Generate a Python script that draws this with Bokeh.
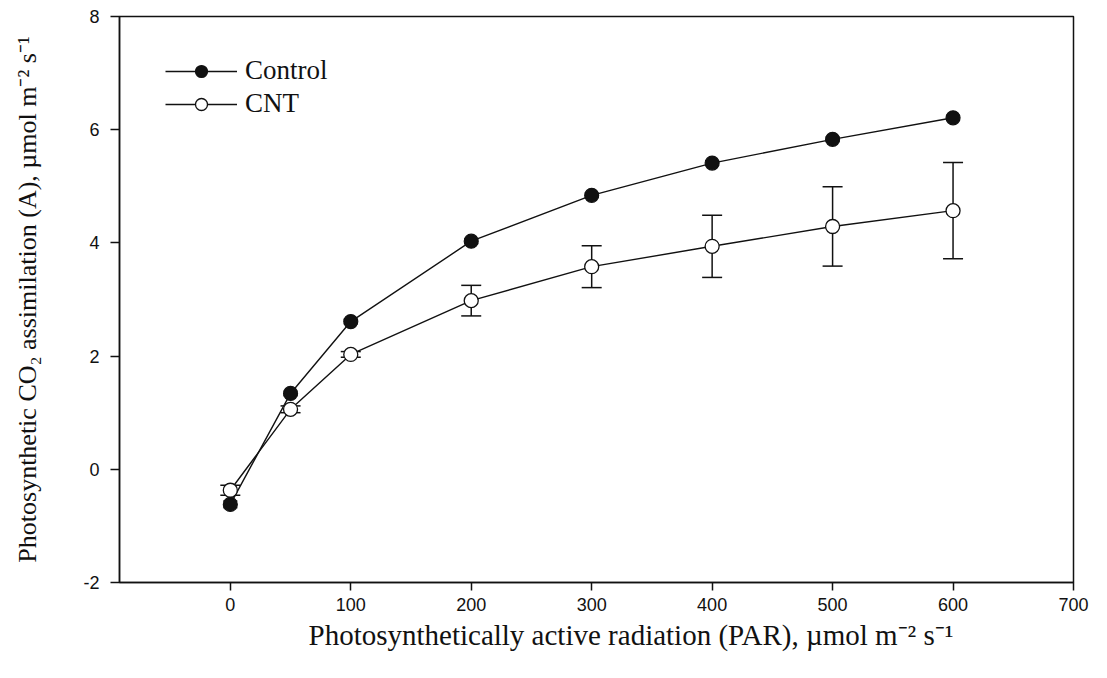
import numpy as np
from bokeh.plotting import figure
from bokeh.models import (Range1d, FixedTicker, ColumnDataSource, Whisker, TeeHead,
                          Legend, LegendItem, Title)
from bokeh.embed import file_html
from bokeh.resources import INLINE

# ---- data ----
par = [0, 50, 100, 200, 300, 400, 500, 600]
control = [-0.62, 1.34, 2.61, 4.03, 4.84, 5.41, 5.83, 6.21]
control_err = [0.06, 0.04, 0.04, 0.04, 0.04, 0.04, 0.04, 0.04]
cnt = [-0.37, 1.06, 2.03, 2.98, 3.58, 3.94, 4.29, 4.57]
cnt_err = [0.09, 0.06, 0.05, 0.27, 0.37, 0.55, 0.70, 0.85]
x_ticks = [0, 100, 200, 300, 400, 500, 600, 700]
y_ticks = [-2, 0, 2, 4, 6, 8]
x_title = "Photosynthetically active radiation (PAR), \u00b5mol m\u207b\u00b2 s\u207b\u00b9"
y_title = "Photosynthetic CO\u2082 assimilation (A), \u00b5mol m\u207b\u00b2 s\u207b\u00b9"

SERIF = "Liberation Serif"
SANS = "Liberation Sans"
INK = "#111111"

p = figure(frame_width=954, frame_height=566, output_backend="svg",
           toolbar_location=None, x_range=Range1d(-92, 700), y_range=Range1d(-2, 8),
           min_border_left=119, min_border_top=16, min_border_right=20, min_border_bottom=40)
p.xgrid.visible = False
p.ygrid.visible = False
p.outline_line_color = INK
p.outline_line_width = 1.5
p.background_fill_color = "white"
p.border_fill_color = "white"

for ax, ticks, tout in ((p.xaxis[0], x_ticks, 8), (p.yaxis[0], y_ticks, 9)):
    ax.ticker = FixedTicker(ticks=ticks)
    ax.major_label_overrides = {t: str(t) for t in ticks}
    ax.minor_tick_line_color = None
    ax.major_tick_in = 0
    ax.major_tick_out = tout
    ax.axis_line_color = INK
    ax.axis_line_width = 1.5
    ax.major_tick_line_color = INK
    ax.major_tick_line_width = 1.5
    ax.major_label_text_font = SANS
    ax.major_label_text_font_size = "18px"
    ax.major_label_text_color = INK
p.xaxis.major_label_standoff = 7
p.yaxis.major_label_standoff = 11

p.yaxis.axis_label = y_title
p.yaxis.axis_label_text_font = SERIF
p.yaxis.axis_label_text_font_size = "26px"
p.yaxis.axis_label_text_font_style = "normal"
p.yaxis.axis_label_text_color = INK
p.yaxis.axis_label_standoff = 38

xt = Title(text=x_title, align="left", offset=189, standoff=6,
           text_font=SERIF, text_font_size="29px", text_font_style="normal",
           text_color=INK)
p.add_layout(xt, "below")

def build_src(x, y, e):
    return ColumnDataSource(dict(x=x, y=y,
                                 upper=[a + b for a, b in zip(y, e)],
                                 lower=[a - b for a, b in zip(y, e)]))

src_c = build_src(par, control, control_err)
src_n = build_src(par, cnt, cnt_err)

for src, cap in ((src_c, 14), (src_n, 20)):
    w = Whisker(source=src, base="x", upper="upper", lower="lower",
                line_color=INK, line_width=1.5, level="underlay",
                upper_head=TeeHead(size=cap, line_color=INK, line_width=1.5),
                lower_head=TeeHead(size=cap, line_color=INK, line_width=1.5))
    p.add_layout(w)

lc = p.line("x", "y", source=src_c, line_color=INK, line_width=1.4)
ln = p.line("x", "y", source=src_n, line_color=INK, line_width=1.4)
mc = p.scatter("x", "y", source=src_c, size=14, marker="circle",
               fill_color=INK, line_color=INK, line_width=1.2)
mn = p.scatter("x", "y", source=src_n, size=14, marker="circle",
               fill_color="white", line_color=INK, line_width=1.3)

legend = Legend(items=[LegendItem(label="Control", renderers=[lc, mc]),
                       LegendItem(label="CNT", renderers=[ln, mn])],
                location=(46, 463), orientation="vertical",
                glyph_width=72, glyph_height=30, label_height=30, spacing=2,
                label_standoff=8, padding=0, margin=0,
                border_line_color=None, background_fill_alpha=0,
                label_text_font=SERIF, label_text_font_size="27px",
                label_text_color=INK)
p.add_layout(legend)

open("out.html", "w").write(file_html(p, INLINE))
